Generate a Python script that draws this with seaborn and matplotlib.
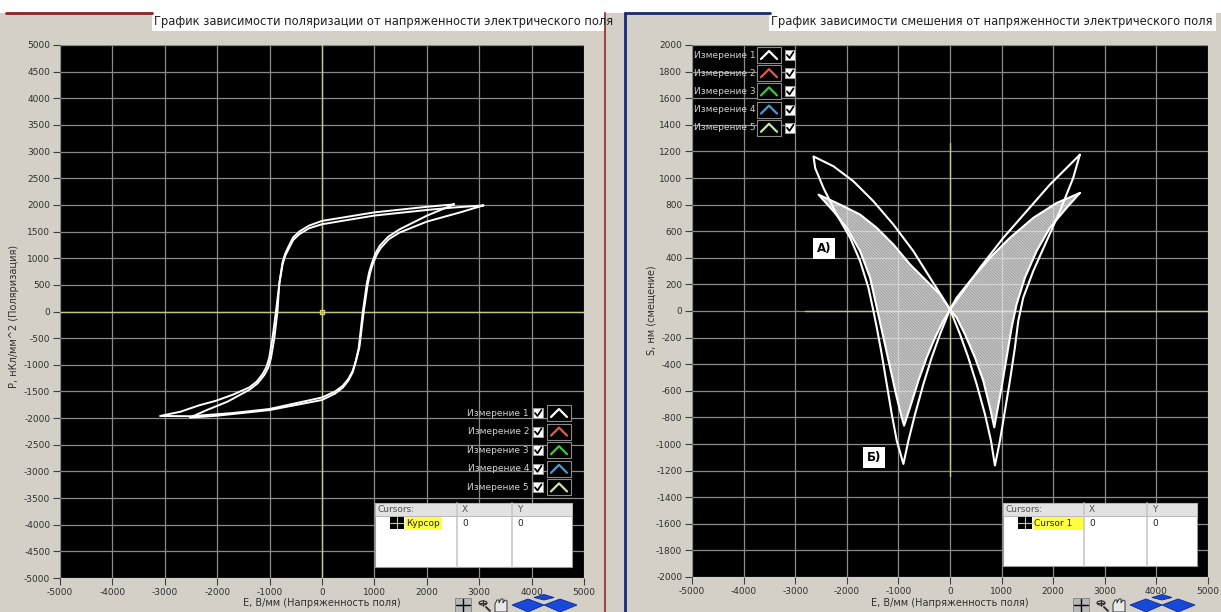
import numpy as np
import pandas as pd
import matplotlib
matplotlib.use("Agg")
import matplotlib.pyplot as plt
import seaborn as sns
from matplotlib.patches import Rectangle, Polygon, Circle
from matplotlib.lines import Line2D

# ---------------- данные ----------------
# Петля гистерезиса P(E), измерение 1 (внешняя)
E_p1 = [3080, 2500, 2006, 1000, 0, -250, -433, -550, -624, -700, -752, -815, -879, -943, -1006, -1060, -1134, -1250,
        -1389, -1700, -2025, -2344, -2700, -3090,
        -2500, -1707, -1006, 0, 250, 395, 500, 586, 650, 713, 796, 873, 920, 968, 1040, 1127, 1280, 1478, 2006, 2624, 3080]
P_p1 = [1990, 1950, 1905, 1800, 1637, 1560, 1450, 1340, 1200, 1050, 888, 512, 0, -488, -863, -1040, -1175, -1320,
        -1425, -1560, -1675, -1760, -1880, -1960,
        -1965, -1905, -1830, -1613, -1500, -1394, -1270, -1113, -920, -675, 0, 513, 730, 888, 1060, 1200, 1360, 1481, 1688, 1856, 1990]
# измерение 2 (внутренняя)
E_p2 = [2520, 2006, 1000, 0, -250, -433, -550, -624, -700, -752, -815, -850, -910, -975, -1030, -1100, -1230, -1389,
        -1800, -2200, -2520,
        -2000, -1006, 0, 250, 395, 500, 586, 640, 700, 780, 855, 900, 950, 1020, 1100, 1260, 1478, 2006, 2520]
P_p2 = [2010, 1965, 1860, 1700, 1610, 1500, 1390, 1250, 1090, 925, 530, 0, -500, -880, -1060, -1190, -1350, -1470,
        -1690, -1850, -1990,
        -1955, -1850, -1660, -1540, -1430, -1300, -1140, -950, -690, 0, 520, 740, 900, 1090, 1230, 1400, 1540, 1800, 2010]

# Кривая смещения S(E) ("бабочка"), измерение 1 (внешняя)
E_s1 = [2516, 2323, 1935, 1484, 1032, 581, 258, 0, -65, -194, -355, -516, -677, -806, -903,
        -1032, -1129, -1226, -1323, -1419, -1484, -1581, -1742, -1935, -2194, -2452, -2613, -2645,
        -2258, -1871, -1484, -1097, -710, -387, -161, 0,
        65, 194, 355, 516, 677, 794, 871,
        968, 1065, 1161, 1258, 1323, 1419, 1613, 1871, 2129, 2387, 2516]
S_s1 = [1175, 1100, 950, 750, 550, 325, 150, 12, -50, -175, -350, -550, -775, -975, -1150,
        -975, -775, -550, -325, -125, 0, 175, 375, 550, 725, 925, 1075, 1162,
        1088, 975, 825, 650, 450, 250, 112, 12,
        -50, -175, -350, -550, -775, -975, -1162,
        -975, -750, -525, -275, -75, 100, 300, 525, 750, 1000, 1175]
# измерение 2 (заштрихованная)
E_s2 = [2516, 2065, 1613, 1161, 774, 387, 129, 0,
        -129, -290, -452, -613, -774, -890,
        -935, -1032, -1161, -1290, -1419, -1548, -1742, -2000, -2258, -2548,
        -2129, -1742, -1419, -1097, -774, -452, -194, 0,
        129, 290, 484, 645, 774, 858,
        916, 1000, 1097, 1194, 1290, 1452, 1677, 1935, 2258, 2516]
S_s2 = [887, 812, 700, 550, 400, 225, 100, 12,
        -75, -200, -350, -525, -725, -862,
        -800, -650, -425, -200, 25, 250, 450, 625, 750, 875,
        800, 725, 625, 500, 350, 225, 125, 12,
        -50, -175, -350, -525, -725, -875,
        -750, -575, -350, -125, 50, 250, 450, 625, 775, 887]

# курсор правого графика (видимая часть линий)
cur_span_S = [-1240, 1265]
cur_span_E = [-2810, 5000]
# подписи А) и Б)
mark_text = ["А)", "Б)"]
mark_E = [-2440, -1470]
mark_S = [470, -1100]

legend_names = ["Измерение 1", "Измерение 2", "Измерение 3", "Измерение 4", "Измерение 5"]
legend_colors = ["#ffffff", "#e05a50", "#3cc83c", "#4a9ad8", "#c8e6a0"]

xticks = list(range(-5000, 5001, 1000))
yticks_p = list(range(-5000, 5001, 500))
yticks_s = list(range(-2000, 2001, 200))

title_p = "График зависимости поляризации от напряженности электрического поля"
title_s = "График зависимости смешения от напряженности электрического поля"
xlabel = "E, В/мм (Напряженность поля)"
ylabel_p = "P, нКл/мм^2 (Поляризация)"
ylabel_s = "S, нм (смещение)"

# ---------------- оформление ----------------
W, H = 1221, 612
GRAY = "#d4d0c8"
GRID = "#8a8a8a"
CURSOR = "#c4c490"

sns.set_theme(style="dark")
plt.rcParams["font.family"] = ["DejaVu Sans"]
plt.rcParams["axes.unicode_minus"] = False
plt.rcParams["hatch.linewidth"] = 0.6

fig = plt.figure(figsize=(W / 100, H / 100), dpi=100, facecolor="white")


def box(x0, y0, x1, y1, **kw):
    kw.setdefault("zorder", 5)
    fig.add_artist(Rectangle((x0 / W, 1 - y1 / H), (x1 - x0) / W, (y1 - y0) / H,
                             transform=fig.transFigure, **kw))


def line(xs, ys, **kw):
    kw.setdefault("zorder", 6)
    fig.add_artist(Line2D([x / W for x in xs], [1 - y / H for y in ys],
                          transform=fig.transFigure, **kw))


def poly(pts, **kw):
    kw.setdefault("zorder", 6)
    fig.add_artist(Polygon([(x / W, 1 - y / H) for x, y in pts], closed=True,
                           transform=fig.transFigure, **kw))


def text(x, y, s, **kw):
    kw.setdefault("zorder", 7)
    fig.text(x / W, 1 - y / H, s, **kw)


# фон панелей и рамки
box(0, 13, 606, 612, fc=GRAY, ec="none", zorder=-5)
box(606, 13, 1221, 612, fc=GRAY, ec="none", zorder=-5)
line([6, 152], [13, 13], color="#8b2222", lw=2)
line([605, 605], [13, 612], color="#9a4a44", lw=1.5)
line([625, 770], [13, 13], color="#1c2a6c", lw=2)
line([625, 625], [13, 612], color="#1c2a6c", lw=2)
box(152, 10, 606, 31, fc="white", ec="none")
box(769, 10, 1216, 31, fc="white", ec="none")
text(154, 21, title_p, ha="left", va="center", fontsize=8.3, color="#202020")
text(771, 21, title_s, ha="left", va="center", fontsize=8.3, color="#202020")

axL = fig.add_axes([60 / W, 1 - 578 / H, 524 / W, 533 / H])
axR = fig.add_axes([692 / W, 1 - 577 / H, 516 / W, 532 / H])

for ax, yt in [(axL, yticks_p), (axR, yticks_s)]:
    ax.set_facecolor("black")
    ax.set_xticks(xticks)
    ax.set_yticks(yt)
    ax.set_xlim(-5000, 5000)
    ax.set_ylim(min(yt), max(yt))
    ax.grid(True, color=GRID, lw=0.9)
    ax.tick_params(axis="both", which="both", direction="out", length=5, width=0.8,
                   color="#404040", labelsize=6.5, labelcolor="#303030", pad=2)
    ax.tick_params(left=True, bottom=True)
    for sp in ax.spines.values():
        sp.set_visible(False)

# левый график: петли гистерезиса
axL.axvline(0, color=CURSOR, lw=1, zorder=2)
axL.axhline(0, color=CURSOR, lw=1, zorder=2)
axL.plot([0], [0], marker="s", ms=3, mfc="none", mec="#d8d870", zorder=3)
for E, P in [(E_p1, P_p1), (E_p2, P_p2)]:
    sns.lineplot(x=E, y=P, sort=False, estimator=None, color="white", lw=1.4, ax=axL, zorder=4)
axL.set_xlabel("")
axL.set_ylabel("")

# правый график: бабочка
axR.plot([0, 0], cur_span_S, color=CURSOR, lw=1, zorder=2)
axR.plot(cur_span_E, [0, 0], color=CURSOR, lw=1, zorder=2)
axR.fill(E_s2, S_s2, facecolor="none", edgecolor="#e8e8e8", hatch="\\" * 22, lw=0, zorder=3)
for E, S in [(E_s1, S_s1), (E_s2, S_s2)]:
    sns.lineplot(x=E, y=S, sort=False, estimator=None, color="white", lw=1.5, ax=axR, zorder=4)
axR.set_xlabel("")
axR.set_ylabel("")
for t, e, s in zip(mark_text, mark_E, mark_S):
    axR.text(e, s, t, ha="center", va="center", fontsize=8.5, fontweight="bold", color="black",
             bbox=dict(boxstyle="square,pad=0.35", fc="white", ec="none"), zorder=6)

# подписи осей
text(322, 603, xlabel, ha="center", va="center", fontsize=7, color="#303030")
text(950, 603, xlabel, ha="center", va="center", fontsize=7, color="#303030")
text(14, 316, ylabel_p, ha="center", va="center", rotation=90, fontsize=7, color="#303030")
text(651, 310, ylabel_s, ha="center", va="center", rotation=90, fontsize=7, color="#303030")


# легенды
def check(cx, cy):
    box(cx, cy - 5, cx + 10, cy + 5, fc="white", ec="#9a9a9a", lw=0.7)
    line([cx + 2, cx + 4.5, cx + 8.5], [cy, cy + 3, cy - 3], color="black", lw=1.3, zorder=7)


def icon(bx, cy, c):
    box(bx, cy - 8, bx + 24, cy + 8, fc="black", ec="#8a8a8a", lw=0.8)
    line([bx + 4, bx + 12, bx + 20], [cy + 4, cy - 4, cy + 4], color=c, lw=1.6, zorder=7)


for i, (name, c) in enumerate(zip(legend_names, legend_colors)):
    y = 413 + i * 18.6
    text(529, y, name, ha="right", va="center", fontsize=6.5, color="#d0d0d0")
    check(533, y)
    icon(547, y, c)
    y = 55 + i * 18.2
    text(694, y, name, ha="left", va="center", fontsize=6.5, color="#d0d0d0")
    icon(757, y, c)
    check(785, y)


# таблицы курсоров
def table(x0, y0, x1, y1, s1, s2, name):
    box(x0, y0, x1, y1, fc="white", ec="#9a9a9a", lw=0.8)
    box(x0, y0, x1, y0 + 13, fc="#e2e2e2", ec="#b0b0b0", lw=0.6)
    line([s1, s1], [y0, y1], color="#c8c8c8", lw=1.2)
    line([s2, s2], [y0, y1], color="#c8c8c8", lw=1.2)
    text(x0 + 3, y0 + 7, "Cursors:", ha="left", va="center", fontsize=6.5, color="#505050")
    text(s1 + 5, y0 + 7, "X", ha="left", va="center", fontsize=6.5, color="#505050")
    text(s2 + 5, y0 + 7, "Y", ha="left", va="center", fontsize=6.5, color="#505050")
    box(x0 + 15, y0 + 14, x0 + 29, y0 + 26, fc="black", ec="none")
    line([x0 + 22, x0 + 22], [y0 + 14, y0 + 26], color="#c8c890", lw=0.8, zorder=7)
    line([x0 + 15, x0 + 29], [y0 + 20, y0 + 20], color="#c8c890", lw=0.8, zorder=7)
    box(x0 + 30, y0 + 14, x0 + 30 + 6.2 * len(name), y0 + 27, fc="#ffff40", ec="none")
    text(x0 + 31, y0 + 20.5, name, ha="left", va="center", fontsize=6.5, color="#202020")
    text(s1 + 5, y0 + 20.5, "0", ha="left", va="center", fontsize=6.5, color="#202020")
    text(s2 + 5, y0 + 20.5, "0", ha="left", va="center", fontsize=6.5, color="#202020")


table(375, 503, 572, 567, 457, 512, "Курсор")
table(1003, 503, 1197, 566, 1084, 1147, "Cursor 1")


# панель инструментов графика (крестик, лупа, рука, стрелки)
def toolbar(x):
    box(x, 598, x + 16, 612, fc="#b8b8b8", ec="#808080", lw=0.6)
    line([x + 8, x + 8], [599, 612], color="black", lw=1, zorder=7)
    line([x + 1, x + 15], [605, 605], color="black", lw=1, zorder=7)
    fig.add_artist(Circle(((x + 28) / W, 1 - 603 / H), 4 / W * 1.0, transform=fig.transFigure,
                          fc="none", ec="#303030", lw=0.9, zorder=7))
    line([x + 25, x + 31], [603, 603], color="#303030", lw=0.8, zorder=7)
    line([x + 28, x + 28], [600, 606], color="#303030", lw=0.8, zorder=7)
    line([x + 31, x + 35], [607, 611], color="#303030", lw=1.4, zorder=7)
    # рука
    poly([(x + 40, 612), (x + 40, 604), (x + 42, 600), (x + 44, 600), (x + 44, 603), (x + 46, 599),
          (x + 48, 599), (x + 48, 603), (x + 50, 600), (x + 52, 601), (x + 52, 612)],
         fc="#e8e8e8", ec="#303030", lw=0.7)
    blue = "#1848d8"
    poly([(x + 57, 605), (x + 73, 599), (x + 89, 605), (x + 73, 612)], fc=blue, ec="#0a2a90", lw=0.6)
    poly([(x + 89, 605), (x + 105, 599), (x + 122, 605), (x + 105, 612)], fc=blue, ec="#0a2a90", lw=0.6)
    poly([(x + 79, 597.5), (x + 89, 594.5), (x + 99, 597.5), (x + 89, 600)], fc=blue, ec="#0a2a90", lw=0.6)


toolbar(455)
toolbar(1073)

fig.savefig("out.png", dpi=100, facecolor=fig.get_facecolor())
